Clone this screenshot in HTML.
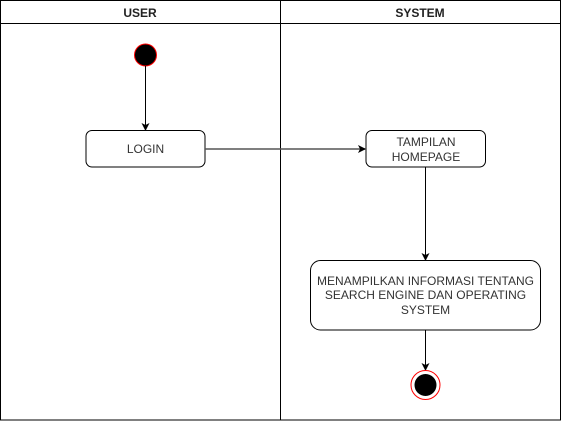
<!DOCTYPE html>
<html><head><style>
html,body{margin:0;padding:0;background:#fff;}
svg{display:block;font-family:"Liberation Sans",Helvetica,Arial,sans-serif;}
</style></head><body>
<svg width="561" height="421" viewBox="0 0 561 421" xmlns="http://www.w3.org/2000/svg">
<defs>
<marker id="a" markerWidth="8" markerHeight="8" refX="7" refY="4" orient="auto" markerUnits="userSpaceOnUse">
<path d="M0,0 L8,4 L0,8 L2,4 Z" fill="#000"/>
</marker>
</defs>
<rect x="0.5" y="0.5" width="560" height="419.5" fill="#fff" stroke="#000"/>
<line x1="0.5" y1="23.5" x2="560.5" y2="23.5" stroke="#000"/>
<line x1="280.5" y1="0.5" x2="280.5" y2="420" stroke="#000"/>
<text x="140" y="17" font-size="12" font-weight="bold" text-anchor="middle" fill="#222">USER</text>
<text x="420" y="17" font-size="12" font-weight="bold" text-anchor="middle" fill="#222">SYSTEM</text>

<circle cx="145.5" cy="55" r="11" fill="#000" stroke="#f00" stroke-width="1"/>
<line x1="145.5" y1="66" x2="145.5" y2="130" stroke="#000" marker-end="url(#a)"/>

<rect x="86" y="130.5" width="119" height="36.5" rx="6" fill="#fff" stroke="#000"/>
<text x="145.5" y="153" font-size="12" text-anchor="middle" fill="#333">LOGIN</text>

<line x1="205" y1="149" x2="365" y2="149" stroke="#555" stroke-width="1.5" marker-end="url(#a)"/>

<rect x="366" y="130.5" width="119.5" height="36.5" rx="6" fill="#fff" stroke="#000"/>
<text x="426" y="146" font-size="12" text-anchor="middle" fill="#333">TAMPILAN</text>
<text x="426" y="161" font-size="12" text-anchor="middle" fill="#333">HOMEPAGE</text>

<line x1="425.5" y1="167" x2="425.5" y2="260" stroke="#000" marker-end="url(#a)"/>

<rect x="310.5" y="260.5" width="230" height="69.5" rx="10" fill="#fff" stroke="#000"/>
<text x="425.5" y="285" font-size="12" text-anchor="middle" fill="#333">MENAMPILKAN INFORMASI TENTANG</text>
<text x="425.5" y="299" font-size="12" text-anchor="middle" fill="#333">SEARCH ENGINE DAN OPERATING</text>
<text x="425.5" y="314" font-size="12" text-anchor="middle" fill="#333">SYSTEM</text>

<line x1="425.5" y1="330" x2="425.5" y2="370" stroke="#000" marker-end="url(#a)"/>

<circle cx="425.5" cy="385" r="14.5" fill="#fff" stroke="#f00" stroke-width="1"/>
<circle cx="425.5" cy="385" r="11" fill="#000"/>
</svg>
</body></html>
